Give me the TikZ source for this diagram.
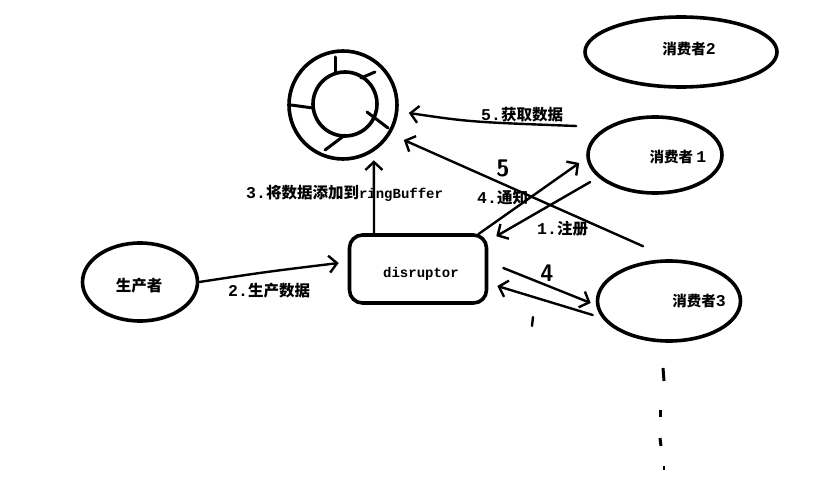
\documentclass[tikz,border=0pt]{standalone}
\usepackage{fontspec}
\setmainfont{Noto Sans CJK SC}
\setmonofont{Liberation Mono}
\usetikzlibrary{shapes.geometric,arrows.meta,calc}
\newcommand\mydg[1]{{\fontsize{16.5}{18}\selectfont\ttfamily\bfseries #1}}
\newcommand\mymono[1]{{\fontsize{14}{16}\selectfont\ttfamily\bfseries #1}}
\begin{document}
\begin{tikzpicture}[x=1pt,y=-1pt,
  shp/.style={draw,line width=3.6pt},
  ell/.style={shp,ellipse,inner sep=0pt},
  conn/.style={line width=2.4pt,line cap=round,-{Straight Barb[length=8pt,width=17pt,line width=2.4pt]}},
  plain/.style={line width=2.4pt,line cap=round},
  lbl/.style={font=\fontsize{15.5}{17}\selectfont\bfseries,inner sep=0pt},
  clbl/.style={font=\fontsize{14.5}{16}\selectfont\bfseries,inner sep=0pt},
  mono/.style={font=\fontsize{14}{16}\selectfont\ttfamily\bfseries,inner sep=0pt},
  hand/.style={font=\fontsize{24}{26}\selectfont\sffamily\bfseries,inner sep=0pt}]
\useasboundingbox[fill=white] (0,0) rectangle (836,489);
% ring buffer
\node[shp,circle,minimum size=108pt,inner sep=0pt] (rb) at (343,105) {};
\draw[shp] (345,104) circle[radius=32];
\draw[plain,line width=3pt] (335,57) -- (335,73);
\draw[plain,line width=3pt] (361,78) -- (375,72);
\draw[plain,line width=3pt] (291,105) -- (313,108);
\draw[plain,line width=3pt] (367,112) -- (388,128);
\draw[plain,line width=3pt] (345,135) -- (325,150);
% nodes
\node[ell,minimum width=192pt,minimum height=70pt] (c2) at (681,52) {};
\node[clbl] (c2t) at (689,49) {消费者\mydg{2}};
\node[ell,minimum width=134pt,minimum height=76pt] (c1) at (655,155) {};
\node[clbl] (c1t) at (678,157) {消费者 \mydg{1}};
\node[ell,minimum width=143pt,minimum height=80pt] (c3) at (669,301) {};
\node[clbl] (c3t) at (699,301) {消费者\mydg{3}};
\node[ell,minimum width=115pt,minimum height=78pt] (p) at (140,282) {};
\node[lbl] (pt) at (139,286) {生产者};
\node[shp,rounded corners=13pt,minimum width=137pt,minimum height=68pt] (d) at (418,269) {};
\node[mono] (dt) at (421,274) {disruptor};
% connectors
\draw[conn] (p.east) .. controls (265,272) .. ($(d.west)+(-9,-6)$);
\draw[conn] ($(d.north)+(-44,0)$) -- ($(rb.-60)+(3,7)$);
\draw[conn] ($(c1.west)+(-10,-29)$) .. controls (470,122) .. ($(rb.east)+(10,8)$);
\draw[conn] ($(c3.north)+(-26,-13)$) -- ($(rb.east)+(5,35)$);
\draw[conn] ($(d.north east)+(-10,1)$) -- ($(c1.west)+(-7,8)$);
\draw[conn] ($(c1.west)+(4,27)$) -- ($(d.north east)+(8,3)$);
\draw[conn] ($(d.east)+(15,-1)$) -- ($(c3.west)+(-5,2)$);
\draw[conn] ($(c3.west)+(-3,14)$) -- ($(d.east)+(9,17)$);
% labels
\node[lbl,anchor=west] (l2) at (228,291) {\mydg{2.}生产数据};
\node[lbl,anchor=west] (l3) at (246,193) {\mydg{3.}将数据添加到\mymono{ringBuffer}};
\node[lbl,anchor=west] (l4) at (477,198) {\mydg{4.}通知};
\node[lbl,anchor=west] (l1) at (537,229) {\mydg{1.}注册};
\node[lbl,anchor=west] (l5) at (481,115) {\mydg{5.}获取数据};
\node[hand] (h5) at (503,168) {5};
\node[hand] (h4) at (547,273) {4};
% small marks
\draw[plain] (533,317) -- (532,326);
\draw[line width=3pt] (663,368) -- (664,381);
\draw[line width=3pt] (660,410) -- (660,417);
\draw[line width=3pt] (660,438) -- (661,446);
\draw[line width=2pt] (664,466) -- (664,470);
\end{tikzpicture}
\end{document}
